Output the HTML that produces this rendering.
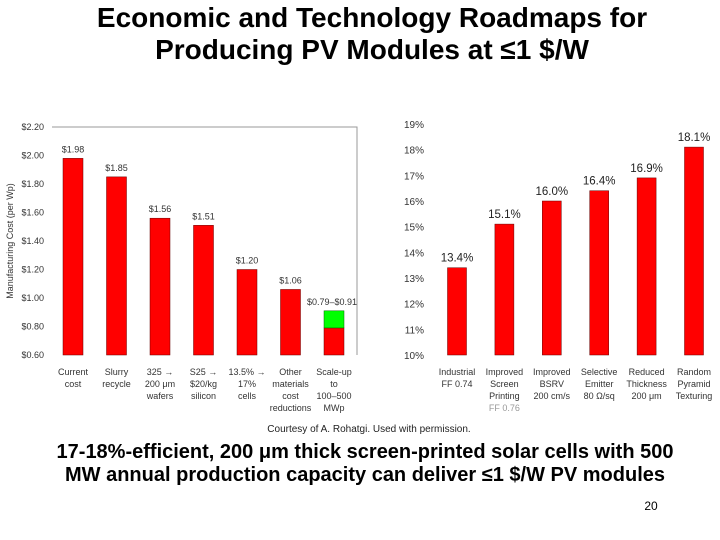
<!DOCTYPE html>
<html><head><meta charset="utf-8"><style>
body{margin:0;width:720px;height:540px;background:#fff;overflow:hidden;font-family:"Liberation Sans",sans-serif}
.t{position:absolute;left:12px;width:720px;text-align:center;font-weight:bold;font-size:28px;color:#000}
svg text{font-family:"Liberation Sans",sans-serif}
</style></head><body>
<div class="t" style="top:2px;line-height:32px">Economic and Technology Roadmaps for<br>Producing PV Modules at ≤1 $/W</div>
<svg width="720" height="540" style="position:absolute;left:0;top:0">
<g id="left"></g>
<g id="right"></g>
<text x="369" y="432" font-size="10" fill="#222" text-anchor="middle">Courtesy of A. Rohatgi. Used with permission.</text>
<text x="365" y="458" font-size="20" font-weight="bold" text-anchor="middle">17-18%-efficient, 200 μm thick screen-printed solar cells with 500</text>
<text x="365" y="481" font-size="20" font-weight="bold" text-anchor="middle">MW annual production capacity can deliver ≤1 $/W PV modules</text>
<text x="651" y="510" font-size="12" text-anchor="middle">20</text>
</svg>
<script>
const costCats=[["Current","cost"],["Slurry","recycle"],["325 →","200 μm","wafers"],["S25 →","$20/kg","silicon"],["13.5% →","17%","cells"],["Other","materials","cost","reductions"],["Scale-up","to","100–500","MWp"]];
const costVals=[1.98,1.85,1.56,1.51,1.20,1.06,0.79];
const costLabels=["$1.98","$1.85","$1.56","$1.51","$1.20","$1.06","$0.79–$0.91"];
const costUpper=[null,null,null,null,null,null,0.91];
const costTicks=[0.6,0.8,1.0,1.2,1.4,1.6,1.8,2.0,2.2];
const effCats=[["Industrial","FF 0.74"],["Improved","Screen","Printing","FF 0.76"],["Improved","BSRV","200 cm/s"],["Selective","Emitter","80 Ω/sq"],["Reduced","Thickness","200 μm"],["Random","Pyramid","Texturing"]];
const effVals=[13.4,15.1,16.0,16.4,16.9,18.1];
const effTicks=[10,11,12,13,14,15,16,17,18,19];
const NS="http://www.w3.org/2000/svg";
function mk(p,tag,a,txt){const e=document.createElementNS(NS,tag);for(const k in a)e.setAttribute(k,a[k]);if(txt!=null)e.textContent=txt;p.appendChild(e);return e;}
const L=document.getElementById('left');
const ly=v=>355-(v-0.6)/1.6*228;
const lx=i=>73+i*43.5;
let e=mk(L,'path',{d:'M52,127H357V355',fill:'none',stroke:'#999','stroke-width':1});

costTicks.forEach(t=>{e=mk(L,'text',{x:44,y:ly(t)+3,'font-size':9,fill:'#333','text-anchor':'end'},'$'+t.toFixed(2));
});
e=mk(L,'text',{x:13,y:241,'font-size':9,fill:'#333','text-anchor':'middle',transform:'rotate(-90 13 241)'},'Manufacturing Cost (per Wp)');

costVals.forEach((v,i)=>{
 e=mk(L,'rect',{x:lx(i)-10,y:ly(v),width:20,height:ly(0.6)-ly(v),fill:'#f00',stroke:'#600','stroke-width':0.5});
 
 if(costUpper[i]!=null){e=mk(L,'rect',{x:lx(i)-10,y:ly(costUpper[i]),width:20,height:ly(v)-ly(costUpper[i]),fill:'#0f0',stroke:'#060','stroke-width':0.5});
 }
 const top=costUpper[i]!=null?costUpper[i]:v;
 e=mk(L,'text',{x:i==6?lx(i)-2:lx(i),y:ly(top)-6,'font-size':9,fill:'#333','text-anchor':'middle'},costLabels[i]);
 
 costCats[i].forEach((s,j)=>{e=mk(L,'text',{x:lx(i),y:375+j*12,'font-size':9,fill:'#333','text-anchor':'middle'},s);
 });
});
const R=document.getElementById('right');
const ry=v=>355-(v-10)/9*231;
const rx=i=>457+i*47.4;
effTicks.forEach(t=>{e=mk(R,'text',{x:424,y:ry(t)+4,'font-size':10,fill:'#333','text-anchor':'end'},t+'%');
});
effVals.forEach((v,i)=>{
 e=mk(R,'rect',{x:rx(i)-9.5,y:ry(v),width:19,height:ry(10)-ry(v),fill:'#f00',stroke:'#600','stroke-width':0.5});
 
 e=mk(R,'text',{x:rx(i),y:ry(v)-6,'font-size':11.5,fill:'#222','text-anchor':'middle'},v.toFixed(1)+'%');
 
 effCats[i].forEach((s,j)=>{e=mk(R,'text',{x:rx(i),y:375+j*12,'font-size':9,fill:j==3?'#999':'#333','text-anchor':'middle'},s);
 });
});
</script>
</body></html>
